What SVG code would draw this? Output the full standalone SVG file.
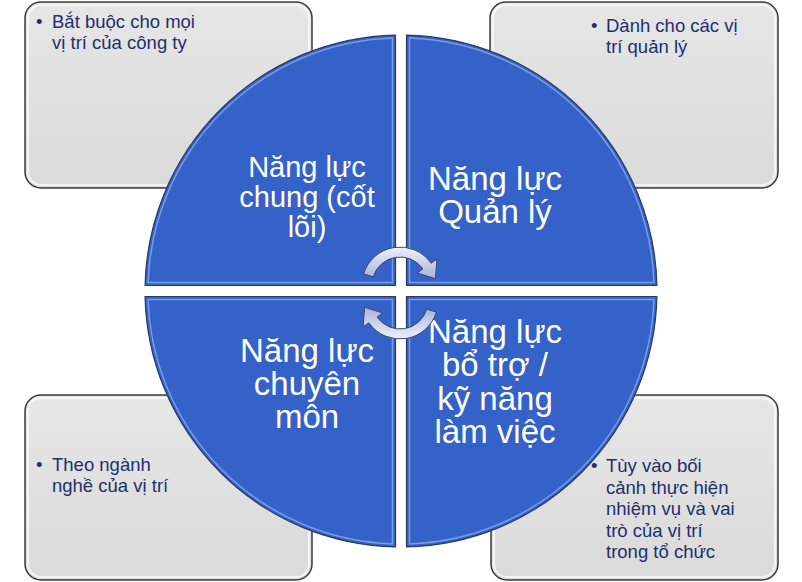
<svg xmlns="http://www.w3.org/2000/svg" xmlns:xlink="http://www.w3.org/1999/xlink" width="802" height="582" viewBox="0 0 802 582">
<defs>
<linearGradient id="boxg" x1="0" y1="0" x2="0" y2="1">
<stop offset="0" stop-color="#e6e6e6"/>
<stop offset="1" stop-color="#dadada"/>
</linearGradient>
<linearGradient id="arrg" x1="0" y1="0" x2="0" y2="1">
<stop offset="0" stop-color="#eef0fa"/>
<stop offset="1" stop-color="#a9b3da"/>
</linearGradient>
<path id="arr" d="M363.66,273.89 A38,38 0 0 1 431.13,263.20 L436.86,259.19 L435.45,278.75 L417.20,272.95 L422.94,268.94 A28,28 0 0 0 373.22,276.81 Z"/>
</defs>
<style>
.box{fill:url(#boxg);stroke:#3b3b3b;stroke-width:1.5}
.boxhl{fill:none;stroke:#ffffff;stroke-width:2;opacity:0.7}
.q{fill:#3462c8;stroke:#2a3a62;stroke-width:1.2}
.qhl{fill:none;stroke:#8fb0f0;stroke-width:1.5;opacity:0.75}
.bt{font-family:"Liberation Sans",Arial,sans-serif;font-size:18.5px;fill:#1f2f6b}
.qt{font-family:"Liberation Sans",Arial,sans-serif;fill:#ffffff;text-anchor:middle}
.arrow{fill:url(#arrg);stroke:#3d4767;stroke-width:1}
</style>
<rect width="802" height="582" fill="#ffffff"/>

<g id="box-tl">
<rect class="box" x="25" y="2" width="287" height="186" rx="16"/>
<rect class="boxhl" x="28" y="5" width="281" height="180" rx="13"/>
<text class="bt" x="36" y="28">•</text>
<text class="bt" x="52" y="28">Bắt buộc cho mọi</text>
<text class="bt" x="52" y="49">vị trí của công ty</text>
</g>
<g id="box-tr">
<rect class="box" x="490" y="2" width="288" height="186" rx="16"/>
<rect class="boxhl" x="493" y="5" width="282" height="180" rx="13"/>
<text class="bt" x="591" y="32">•</text>
<text class="bt" x="606" y="32">Dành cho các vị</text>
<text class="bt" x="606" y="53">trí quản lý</text>
</g>
<g id="box-bl">
<rect class="box" x="25" y="395" width="287" height="185" rx="16"/>
<rect class="boxhl" x="28" y="398" width="281" height="179" rx="13"/>
<text class="bt" x="36" y="471">•</text>
<text class="bt" x="52" y="471">Theo ngành</text>
<text class="bt" x="52" y="492">nghề của vị trí</text>
</g>
<g id="box-br">
<rect class="box" x="491" y="395" width="287" height="185" rx="16"/>
<rect class="boxhl" x="494" y="398" width="281" height="179" rx="13"/>
<text class="bt" x="591" y="472">•</text>
<text class="bt" x="606" y="472">Tùy vào bối</text>
<text class="bt" x="606" y="493.5">cảnh thực hiện</text>
<text class="bt" x="606" y="515">nhiệm vụ và vai</text>
<text class="bt" x="606" y="536.5">trò của vị trí</text>
<text class="bt" x="606" y="558">trong tổ chức</text>
</g>

<g id="quad-tl">
<path class="q" d="M395.5,285.5 L145.06,285.5 A256,256 0 0 1 395.5,35.06 Z"/>
<path class="qhl" d="M392.5,282.5 L148.1,282.5 A253,253 0 0 1 392.5,38.1 Z"/>
<text class="qt" font-size="29" x="307" y="177">Năng lực</text>
<text class="qt" font-size="29" x="307" y="207">chung (cốt</text>
<text class="qt" font-size="29" x="307" y="237">lõi)</text>
</g>
<g id="quad-tr">
<path class="q" d="M406.5,285.5 L406.5,35.06 A256,256 0 0 1 656.94,285.5 Z"/>
<path class="qhl" d="M409.5,282.5 L409.5,38.1 A253,253 0 0 1 653.9,282.5 Z"/>
<text class="qt" font-size="33" x="495" y="190">Năng lực</text>
<text class="qt" font-size="33" x="495" y="223">Quản lý</text>
</g>
<g id="quad-br">
<path class="q" d="M406.5,296.5 L656.94,296.5 A256,256 0 0 1 406.5,546.94 Z"/>
<path class="qhl" d="M409.5,299.5 L653.9,299.5 A253,253 0 0 1 409.5,543.9 Z"/>
<text class="qt" font-size="33" x="495" y="343">Năng lực</text>
<text class="qt" font-size="33" x="495" y="376">bổ trợ /</text>
<text class="qt" font-size="33" x="495" y="410">kỹ năng</text>
<text class="qt" font-size="33" x="495" y="443">làm việc</text>
</g>
<g id="quad-bl">
<path class="q" d="M395.5,296.5 L395.5,546.94 A256,256 0 0 1 145.06,296.5 Z"/>
<path class="qhl" d="M392.5,299.5 L392.5,543.9 A253,253 0 0 1 148.1,299.5 Z"/>
<text class="qt" font-size="33" x="307" y="362">Năng lực</text>
<text class="qt" font-size="33" x="307" y="395">chuyên</text>
<text class="qt" font-size="33" x="307" y="428">môn</text>
</g>

<g id="connectors">
<use xlink:href="#arr" class="arrow"/>
<use xlink:href="#arr" class="arrow" transform="rotate(180 400 293)"/>
</g>
</svg>
